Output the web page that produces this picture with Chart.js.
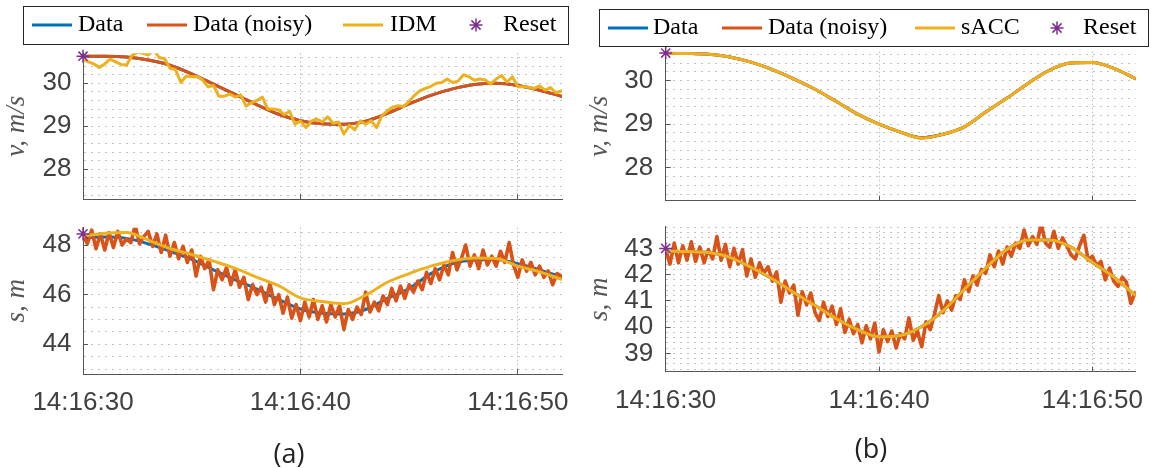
<!DOCTYPE html>
<html><head><meta charset="utf-8">
<script src="https://cdn.jsdelivr.net/npm/chart.js@4/dist/chart.umd.min.js"></script>
<style>
html,body{margin:0;padding:0;background:#fff;width:1151px;height:468px;overflow:hidden;position:relative;}
canvas{position:absolute;}
.cap{position:absolute;font-family:"Open Sans";font-size:27px;line-height:27px;color:#222;white-space:nowrap;transform:translate(-50%,-50%);}
</style></head><body>
<canvas id="aBot" width="592" height="260" style="left:0;top:190px"></canvas>
<canvas id="aTop" width="592" height="235" style="left:0;top:0"></canvas>
<canvas id="bBot" width="590" height="260" style="left:582px;top:190px"></canvas>
<canvas id="bTop" width="590" height="235" style="left:582px;top:0"></canvas>
<div class="cap" style="left:289px;top:452px">(a)</div>
<div class="cap" style="left:871px;top:447px">(b)</div>
<script>
// ---------- data ----------
const xTickValues = [0, 10, 20];
const xTickLabels = ['14:16:30', '14:16:40', '14:16:50'];
const X_MAX = 22.03;

// sample times (s after 14:16:30)
const t1 = [0,1,2,3,4,5,6,7,8,9,10,11,12,13,14,15,16,17,18,19,20,21,22];
const tQuarter = Array.from({length: 89}, (_, i) => i * 0.25);
const tFifth = Array.from({length: 111}, (_, i) => Math.round(i * 2) / 10);

// (a) speed
const vA_data  = [30.63,30.63,30.61,30.54,30.42,30.22,29.98,29.74,29.50,29.28,29.13,29.06,29.05,29.12,29.30,29.52,29.72,29.87,29.97,30.00,29.95,29.84,29.70];
const vA_noisy = [30.63,30.63,30.61,30.54,30.42,30.22,29.98,29.74,29.50,29.28,29.13,29.06,29.05,29.12,29.30,29.52,29.72,29.87,29.97,30.00,29.95,29.84,29.70];
const vA_idm = [
 30.55,30.50,30.45,30.37, 30.45,30.56,30.50,30.44, 30.42,30.65,30.72,30.70, 30.66,30.78,30.60,30.57,
 30.35,30.32,30.02,30.17, 30.15,30.16,30.08,29.92, 29.95,29.70,29.70,29.75, 29.68,29.73,29.47,29.55,
 29.60,29.68,29.40,29.40, 29.38,29.27,29.35,29.05, 29.12,28.97,29.12,29.17, 29.10,29.22,29.07,29.10,
 28.82,29.02,28.92,29.13, 29.05,29.13,28.97,29.25, 29.36,29.45,29.48,29.46, 29.58,29.72,29.83,29.88,
 29.93,30.00,30.02,30.10, 30.02,30.05,30.20,30.15, 30.07,30.10,30.08,29.98, 30.10,30.18,30.03,30.15,
 29.92,29.92,29.91,29.88, 29.94,29.84,29.90,29.78, 29.82];
// (a) gap
const sA_data = [48.30,48.32,48.27,48.05,47.75,47.42,47.00,46.60,46.22,45.80,45.42,45.25,45.22,45.40,45.85,46.25,46.85,47.25,47.40,47.42,47.25,47.00,46.72];
const sA_idm  = [48.36,48.48,48.51,48.20,47.86,47.62,47.35,47.06,46.70,46.36,45.87,45.72,45.63,45.98,46.50,46.85,47.15,47.37,47.48,47.46,47.15,46.92,46.62];
const sA_noisy = [
 48.40,48.05,48.60,47.85,48.45, 47.80,48.50,47.90,48.55,48.00, 48.25,48.10,48.80,48.05,48.35,
 48.55,47.95,48.45,47.70,48.40, 47.55,48.10,47.45,47.95,47.30, 47.80,46.75,47.55,47.05,47.40,
 46.20,47.00,46.60,47.10,46.40, 47.00,46.30,46.70,45.80,46.40, 46.00,46.30,45.70,46.45,45.60,
 46.00,45.25,45.90,45.05,45.60, 44.95,45.70,45.10,45.80,45.00, 45.55,44.90,45.60,45.10,45.55,
 44.60,45.40,45.00,45.50,45.20, 46.10,45.30,45.70,45.35,45.95, 45.60,46.25,45.75,46.35,45.85,
 46.40,46.10,46.55,46.20,46.90, 46.45,47.05,46.60,47.20,46.80, 47.70,47.00,47.45,48.00,47.15,
 47.60,47.05,47.80,47.20,47.55, 47.15,47.75,47.30,48.10,47.20, 46.70,47.40,46.95,47.30,46.80,
 47.15,46.70,46.95,46.40,46.85, 46.75];
// (b) speed
const vB_data  = [30.63,30.62,30.60,30.54,30.42,30.25,30.04,29.80,29.52,29.23,29.00,28.82,28.69,28.77,28.94,29.28,29.60,29.94,30.24,30.40,30.41,30.28,30.05];
const vB_noisy = [30.63,30.62,30.60,30.54,30.42,30.25,30.04,29.80,29.52,29.23,29.00,28.82,28.69,28.77,28.94,29.28,29.60,29.94,30.24,30.40,30.41,30.28,30.05];
const vB_sacc  = [30.63,30.62,30.60,30.54,30.42,30.25,30.04,29.80,29.52,29.23,29.00,28.82,28.68,28.77,28.94,29.28,29.60,29.94,30.24,30.40,30.41,30.28,30.05];
// (b) gap
const sB_data = [42.90,42.88,42.84,42.66,42.28,41.83,41.32,40.82,40.32,39.90,39.63,39.68,40.02,40.62,41.44,42.25,42.97,43.32,43.32,43.05,42.46,41.91,41.22];
const sB_sacc = [42.90,42.88,42.84,42.66,42.28,41.83,41.32,40.82,40.32,39.90,39.63,39.68,40.02,40.62,41.44,42.25,42.97,43.32,43.32,43.05,42.46,41.91,41.22];
const sB_noisy = [
 42.95,42.40,43.20,42.45,43.10, 42.55,43.25,42.50,43.05,42.45, 42.95,42.60,43.45,42.55,43.15,
 42.30,43.00,42.40,42.95,41.95, 42.60,41.90,42.45,42.05,42.30, 41.75,42.10,40.95,41.75,41.30,
 41.60,40.45,41.35,40.85,41.30, 40.55,40.25,40.95,40.40,40.80, 40.10,40.70,39.80,40.30,39.75,
 40.10,39.40,40.05,39.55,40.15, 39.05,39.90,39.45,39.85,39.20, 39.75,39.55,40.35,39.50,39.85,
 39.25,40.20,39.90,40.50,41.20, 40.55,41.00,40.65,41.20,41.05, 41.80,41.35,41.95,41.60,42.20,
 42.05,42.75,42.30,42.90,42.40, 43.05,42.70,43.20,43.00,43.70, 43.10,43.45,43.15,43.95,43.20,
 43.05,43.65,43.00,43.40,43.10, 42.75,42.60,43.10,43.50,42.55, 42.70,42.35,42.50,41.80,42.25,
 41.75,41.55,41.90,41.70,40.90, 41.30];
// resets
const resetT = [0];
const resetVA = [30.63], resetSA = [48.45], resetVB = [30.63], resetSB = [43.0];

// y tick labels
const vTicksA = [28, 29, 30];
const sTicksA = [44, 46, 48];
const vTicksB = [28, 29, 30];
const sTicksB = [39, 40, 41, 42, 43];

// ---------- styling ----------
const BLUE = '#0072BD', ORANGE = '#D95319', YELLOW = '#EDB120', PURPLE = '#7E2F8E';
const pts = (ts, vs) => ts.map((t, i) => ({x: t, y: vs[i]}));

function lineDs(label, ts, vs, color, order, smooth, width) {
  return {label, data: pts(ts, vs), borderColor: color, backgroundColor: color, borderWidth: width || 3,
    order, pointRadius: 0, tension: 0, cubicInterpolationMode: smooth ? 'monotone' : 'default',
    borderJoinStyle: 'round', borderCapStyle: 'round'};
}
function resetDs(vs) {
  return {label: 'Reset', data: pts(resetT, vs), showLine: false, pointStyle: 'star', pointRadius: 6.5,
    pointBorderWidth: 1.5, borderColor: PURPLE, backgroundColor: PURPLE, order: 0, clip: false};
}

function drawStar(c, x, y, r) {
  c.beginPath();
  for (let k = 0; k < 4; k++) {
    const a = k * Math.PI / 4;
    c.moveTo(x - r * Math.cos(a), y - r * Math.sin(a));
    c.lineTo(x + r * Math.cos(a), y + r * Math.sin(a));
  }
  c.stroke();
}

const LEGENDS = {
  aTop: {box: [23.5, 6.5, 545, 38], y: 25, items: [[0, 32, 78], [1, 147, 193], [2, 343, 390], [3, 476, 503]]},
  bTop: {box: [17.5, 9.5, 549, 37], y: 28, items: [[0, 26, 71], [1, 140, 186], [2, 333, 379], [3, 475, 501]]}
};
const boxLegend = {
  id: 'boxLegend',
  afterDraw(chart) {
    const L = LEGENDS[chart.canvas.id];
    if (!L) return;
    const c = chart.ctx;
    c.save();
    c.fillStyle = '#fff';
    c.fillRect(L.box[0], L.box[1], L.box[2], L.box[3]);
    c.strokeStyle = '#262626'; c.lineWidth = 1;
    c.strokeRect(L.box[0], L.box[1], L.box[2], L.box[3]);
    c.font = '24px "Liberation Serif"';
    c.textBaseline = 'middle'; c.textAlign = 'left';
    for (const [di, mx, tx] of L.items) {
      const ds = chart.data.datasets[di];
      c.strokeStyle = ds.borderColor;
      if (ds.pointStyle === 'star') { c.lineWidth = 1.5; drawStar(c, mx, L.y, 6.5); }
      else { c.lineWidth = 3; c.beginPath(); c.moveTo(mx, L.y); c.lineTo(mx + 40, L.y); c.stroke(); }
      c.fillStyle = '#000';
      c.fillText(ds.label, tx, L.y);
    }
    c.restore();
  }
};

function buildChart(id, o) {
  const yTicks = [];
  const start = Math.ceil(o.yMin / o.yStep - 1e-9);
  for (let k = start; k * o.yStep <= o.yMax + 1e-9; k++) yTicks.push(Math.round(k * o.yStep * 1000) / 1000);
  const isMajor = v => o.yMajor.some(m => Math.abs(m - v) < 1e-6);
  const tickFont = {family: 'Liberation Sans', size: 26};
  return new Chart(document.getElementById(id), {
    type: 'line',
    data: {datasets: o.datasets},
    options: {
      responsive: false, animation: false, events: [],
      layout: {padding: {top: o.padTop, right: o.padRight, left: 0, bottom: 0}},
      plugins: {legend: {display: false}, tooltip: {enabled: false}},
      scales: {
        x: {
          type: 'linear', min: 0, max: X_MAX,
          afterBuildTicks: s => { s.ticks = xTickValues.map(v => ({value: v})); },
          afterFit: s => { s.height = o.xHeight; },
          ticks: {display: o.showX, autoSkip: false, maxRotation: 0, padding: 18.5, color: '#404040', font: tickFont,
            callback: v => { const i = xTickValues.indexOf(v); return i >= 0 ? xTickLabels[i] : ''; }},
          grid: {drawTicks: true, tickLength: -5, tickWidth: 1,
            tickColor: c => (c.tick && c.tick.value === 0) ? 'rgba(0,0,0,0)' : '#555',
            color: c => (c.tick && c.tick.value === 0) ? 'rgba(0,0,0,0)' : '#bdbdbd', lineWidth: 1},
          border: {display: true, color: '#555', width: 1, dash: [1.5, 2.5]}
        },
        y: {
          type: 'linear', position: 'left', min: o.yMin, max: o.yMax,
          afterBuildTicks: s => { s.ticks = yTicks.map(v => ({value: v})); },
          afterFit: s => { s.width = o.yWidth; },
          ticks: {autoSkip: false, padding: o.yPad, color: '#404040', font: tickFont,
            callback: v => isMajor(v) ? String(Math.round(v)) : ''},
          grid: {drawTicks: true, tickLength: -5, tickWidth: 1,
            tickColor: c => (c.tick && isMajor(c.tick.value)) ? '#555' : 'rgba(0,0,0,0)',
            color: '#c2c2c2', lineWidth: 1},
          border: {display: true, color: '#555', width: 1, dash: [2, 5]},
          title: {display: true, text: o.yTitle, color: '#555',
            font: {family: 'Liberation Serif', style: 'italic', size: 27}, padding: {top: o.titlePad, bottom: 0}}
        }
      }
    },
    plugins: [boxLegend]
  });
}

buildChart('aTop', {
  datasets: [lineDs('Data', t1, vA_data, BLUE, 3, true), lineDs('Data (noisy)', t1, vA_noisy, ORANGE, 2, true),
             lineDs('IDM', tQuarter, vA_idm, YELLOW, 1, false), resetDs(resetVA)],
  yMin: 27.3, yMax: 30.7, yStep: 0.2, yMajor: vTicksA, yTitle: 'v, m/s',
  padTop: 53.2, padRight: 30, xHeight: 35.6, yWidth: 83, yPad: 16.5, titlePad: 1, showX: false
});
buildChart('aBot', {
  datasets: [lineDs('Data', t1, sA_data, BLUE, 3, true), lineDs('Data (noisy)', tFifth, sA_noisy, ORANGE, 2, false, 3.6),
             lineDs('IDM', t1, sA_idm, YELLOW, 1, true), resetDs(resetSA)],
  yMin: 42.8, yMax: 48.7, yStep: 0.5, yMajor: sTicksA, yTitle: 's, m',
  padTop: 37.7, padRight: 30, xHeight: 76, yWidth: 83, yPad: 16.5, titlePad: 1, showX: true
});
buildChart('bTop', {
  datasets: [lineDs('Data', t1, vB_data, BLUE, 3, true), lineDs('Data (noisy)', t1, vB_noisy, ORANGE, 2, true),
             lineDs('sACC', t1, vB_sacc, YELLOW, 1, true), resetDs(resetVB)],
  yMin: 27.25, yMax: 30.66, yStep: 0.2, yMajor: vTicksB, yTitle: 'v, m/s',
  padTop: 51.7, padRight: 36.3, xHeight: 34.3, yWidth: 83.7, yPad: 17.5, titlePad: 1.5, showX: false
});
buildChart('bBot', {
  datasets: [lineDs('Data', t1, sB_data, BLUE, 3, true), lineDs('Data (noisy)', tFifth, sB_noisy, ORANGE, 2, false, 3.6),
             lineDs('sACC', t1, sB_sacc, YELLOW, 1, true), resetDs(resetSB)],
  yMin: 38.3, yMax: 43.83, yStep: 0.2, yMajor: sTicksB, yTitle: 's, m',
  padTop: 36.6, padRight: 36.3, xHeight: 78.3, yWidth: 83.7, yPad: 17.5, titlePad: 1.5, showX: true
});
</script>
</body></html>
